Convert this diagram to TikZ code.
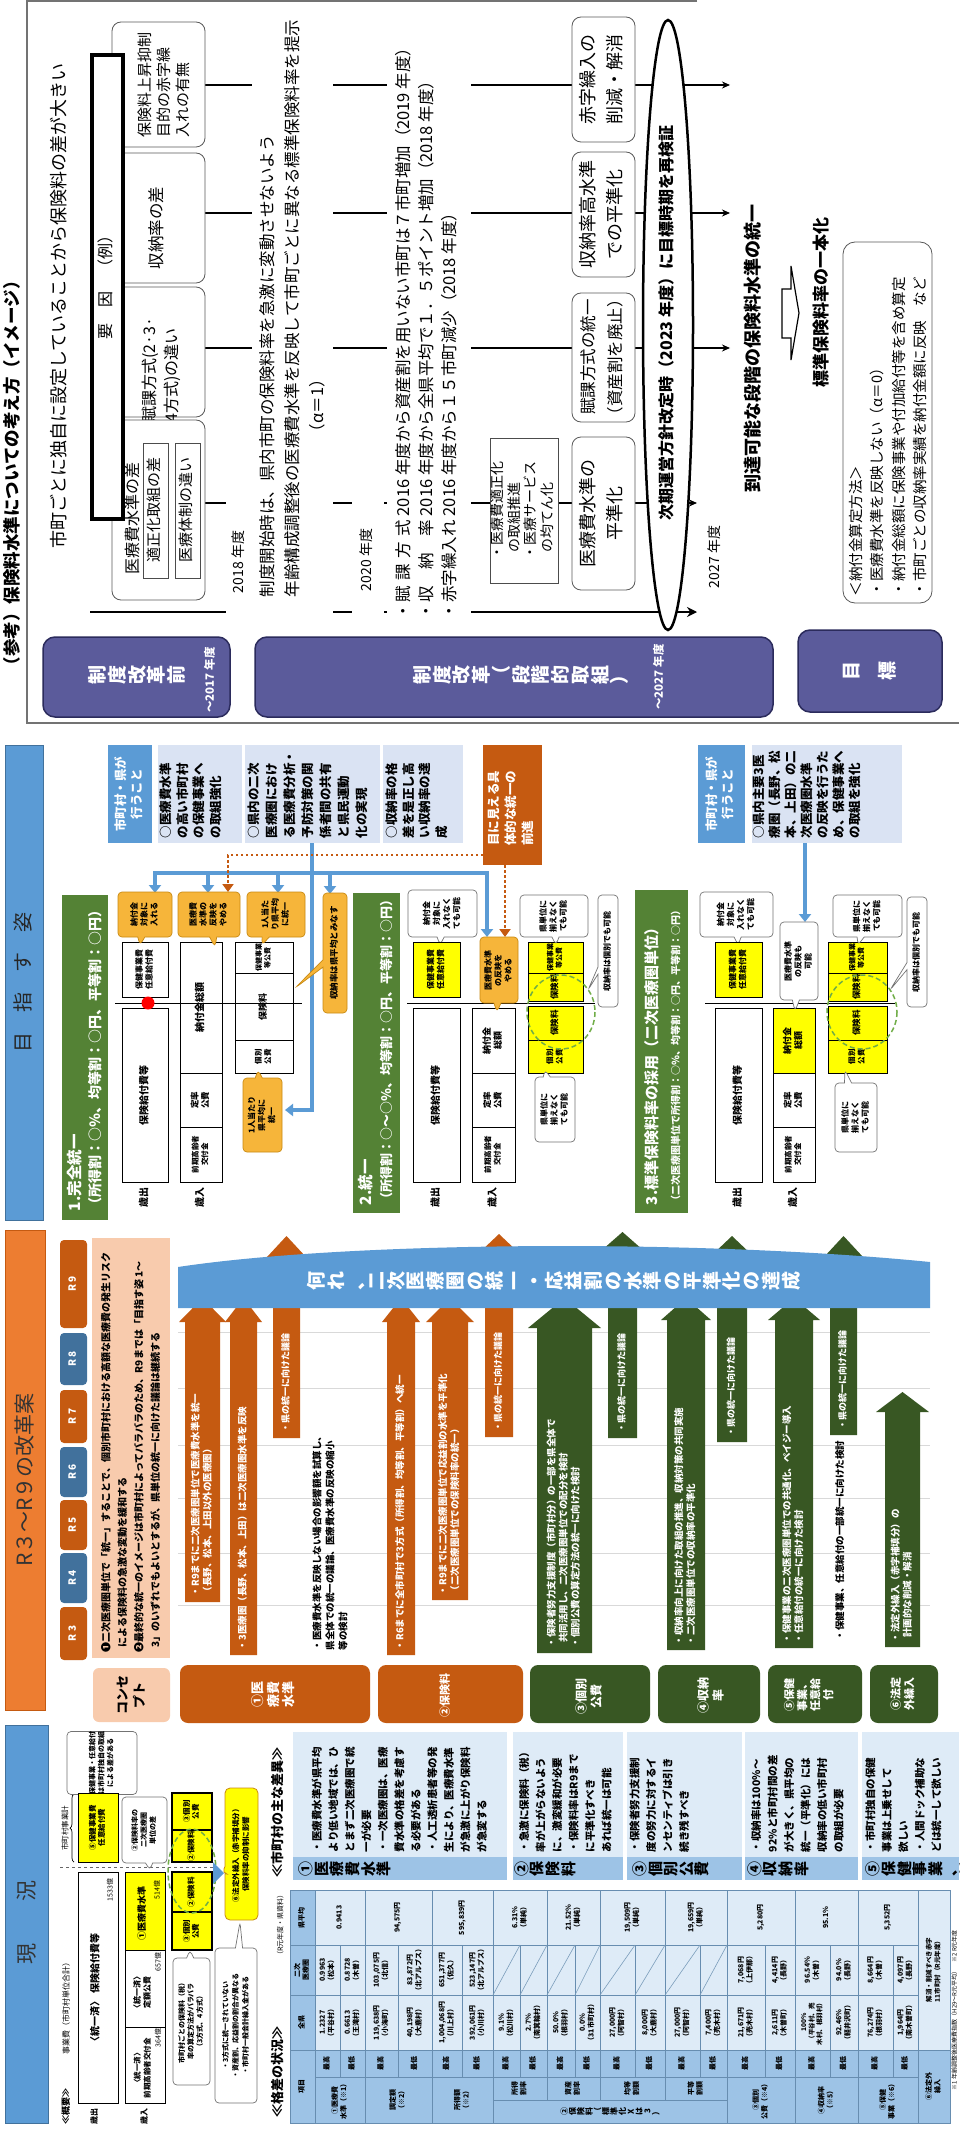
\documentclass[tikz,border=0pt]{standalone}
\usepackage{fontspec}
\setmainfont{Noto Sans CJK JP}
\usetikzlibrary{shapes.callouts,shapes.geometric,arrows.meta,decorations.pathreplacing}
\definecolor{purp}{HTML}{5B5B9B}
\definecolor{purpD}{HTML}{2B2B5C}
\definecolor{blueM}{HTML}{5B9BD5}
\definecolor{blueD}{HTML}{41719C}
\definecolor{blueL}{HTML}{DAE3F3}
\definecolor{blueP}{HTML}{DEEBF7}
\definecolor{blueH}{HTML}{9DC3E6}
\definecolor{orgD}{HTML}{C55A11}
\definecolor{orgB}{HTML}{ED7D31}
\definecolor{peach}{HTML}{F8CBAD}
\definecolor{grn}{HTML}{548235}
\definecolor{grnD}{HTML}{385723}
\definecolor{grnL}{HTML}{70AD47}
\definecolor{yel}{HTML}{FFFF00}
\definecolor{gold}{HTML}{F6B53A}
\definecolor{goldD}{HTML}{C98A12}
\newcommand\rtl[1]{\rotatebox{90}{\begin{tabular}{@{}l@{}}#1\end{tabular}}}
\newcommand\rtc[1]{\rotatebox{90}{\begin{tabular}{@{}c@{}}#1\end{tabular}}}
\makeatletter
\newcommand\hz[1]{\rotatebox{90}{\vbox{\baselineskip=1.04em\lineskip=0pt\lineskiplimit=0pt\@tfor\hz@c:=#1\do{\hbox to 1em{\hss\hz@c\hss}}}}}
\makeatother
\newcommand\uparr[7]{\fill[#1] (#2,#4) -- (#2,#6) -- ({#2-#7},#6) -- ({(#2+#3)/2},#5) -- ({#3+#7},#6) -- (#3,#6) -- (#3,#4) -- cycle;}
\tikzset{
 fs/.style 2 args={font=\fontsize{#1}{#2}\selectfont},
 fb/.style 2 args={font=\fontsize{#1}{#2}\selectfont\bfseries},
 dbl/.style={draw=black!70, double=white, double distance=1.5pt, line width=0.6pt, fill=white},
 rbox/.style={draw=black!65, line width=0.8pt, rounded corners=9pt, fill=white},
 wbox/.style={draw=black, line width=1pt, fill=white},
 ybox/.style={draw=black, line width=1pt, fill=yel},
 thinbox/.style={draw=black!70, line width=0.7pt, fill=white},
 cw/.style={rectangle callout, draw=black!55, fill=white, line width=0.7pt, rounded corners=4pt},
 co/.style={rectangle callout, draw=goldD, fill=gold, line width=0.7pt, rounded corners=4pt},
 conn/.style={draw=black, line width=1.1pt, -{Stealth[length=8pt,width=7pt]}},
 barrow/.style={draw=blueM, line width=3.5pt, -{Triangle[length=8pt,width=12pt]}},
 bline/.style={draw=blueM, line width=3.5pt},
 odot/.style={draw=orgD, line width=2.5pt, dash pattern=on 2.5pt off 2.5pt},
 gdash/.style={draw=grnL, line width=1.5pt, dash pattern=on 5pt off 3pt},
 tline/.style={draw=blueD!80, line width=0.7pt},
 tv/.style={fb={7}{8.5}},
 wt/.style={text=white},
}
\begin{document}
\begin{tikzpicture}[x=1pt,y=-1pt, every node/.style={inner sep=0pt, outer sep=0pt}]
\fill[white] (0,0) rectangle (959,2132);
\useasboundingbox (0,0) rectangle (959,2132);

%%%%%%%%%%%%%%%% FIGURE 1 %%%%%%%%%%%%%%%%
\draw[black!55, line width=1.4pt] (697,1) -- (27,1) -- (27,723) -- (959,723);
\node[fb={17.5}{20}, anchor=south] (title) at (14,674) {\rtl{（参考）保険料水準についての考え方（イメージ）}};

\coordinate (c1a) at (205,85);  \coordinate (c1b) at (730,85);
\coordinate (c2a) at (205,213); \coordinate (c2b) at (730,213);
\coordinate (c3a) at (205,348); \coordinate (c3b) at (730,348);
\coordinate (c4a) at (205,503); \coordinate (c4b) at (697,503);
\coordinate (c5a) at (90,612);  \coordinate (c5b) at (697,612);
\draw[conn] (c1a) -- (c1b);
\draw[conn] (c2a) -- (c2b);
\draw[conn] (c3a) -- (c3b);
\draw[conn] (c4a) -- (c4b);
\draw[line width=2.6pt, -{Stealth[length=10pt,width=10pt]}] (c5a) -- (c5b);

% row 1
\draw[dbl] (35,13) rectangle (88,628);
\node[fs={18}{20}] (a1) at (61,306) {\rtl{市町ごとに独自に設定していることから保険料の差が大きい}};
\draw[rbox] (112,22) rectangle (205,147);
\node[fs={15}{19}] (f1) at (166,85) {\rtl{保険料上昇抑制\\目的の赤字繰\\入れの有無}};
\draw[rbox] (112,153) rectangle (205,283);
\node[fs={16.5}{20}] (f2) at (158,228) {\rtl{収納率の差}};
\draw[rbox] (112,287) rectangle (205,417);
\node[fs={16}{22}] (f3) at (162,370) {\rtl{賦課方式(2·3·\\4方式)の違い}};
\draw[rbox] (112,420) rectangle (205,600);
\node[fs={16}{18}] (f4) at (134,518) {\rtl{医療費水準の差}};
\draw[thinbox] (143,443) rectangle (168,578);
\node[fs={15}{17}] (f4a) at (155.5,510) {\rtl{適正化取組の差}};
\draw[thinbox] (175,443) rectangle (200,578);
\node[fs={15}{17}] (f4b) at (187.5,510) {\rtl{医療体制の違い}};
\draw[line width=3.5pt, fill=white] (92,55) rectangle (123,519);
\node[fs={16}{18}] (yoin) at (107.5,283) {\rtl{要\quad 因\quad （例）}};

% row 2
\draw[dbl] (227,497) rectangle (253,627);
\node[fs={14}{16}] (y2018) at (240,562) {\rtl{2018 年度}};
\draw[dbl] (253,13) rectangle (332,628);
\node[fs={16.5}{25}, anchor=south] (t18) at (293,597) {\rtl{制度開始時は、県内市町の保険料率を急激に変動させないよう\\年齢構成調整後の医療費水準を反映して市町ごとに異なる標準保険料率を提示\\\hspace*{9.5em}（α＝1）}};
\draw[dbl] (353,497) rectangle (383,623);
\node[fs={14}{16}] (y2020) at (368,560) {\rtl{2020 年度}};
\draw[dbl] (388,13) rectangle (470,623);
\node[fs={16.5}{23}, anchor=south] (t20) at (428,619) {\rtl{・\makebox[5em][s]{賦\hfill 課\hfill 方\hfill 式}\ 2016 年度から資産割を用いない市町は７市町増加（2019 年度）\\・\makebox[5em][s]{収\hfill 納\hfill 率}\ 2016 年度から全県平均で１．５ポイント増加（2018 年度）\\・\makebox[5em][s]{赤字繰入れ}\ 2016 年度から１５市町減少（2018 年度）}};

\draw[thinbox] (490,438) rectangle (558,583);
\node[fs={14}{16}] (kin) at (524,510) {\rtl{・医療費適正化\\\ \ の取組推進\\・医療サービス\\\ \ の均てん化}};
\draw[rbox] (572,17) rectangle (635,142);
\node[fs={18}{27}] (g1) at (603,80) {\rtc{赤字繰入の\\削減・解消}};
\draw[rbox] (572,152) rectangle (635,277);
\node[fs={18}{27}] (g2) at (603,215) {\rtc{収納率高水準\\での平準化}};
\draw[rbox] (572,293) rectangle (635,422);
\node[fs={16.5}{27}] (g3) at (603,357) {\rtc{賦課方式の統一\\（資産割を廃止）}};
\draw[rbox] (572,437) rectangle (635,590);
\node[fs={18}{27}] (g4) at (603,513) {\rtc{医療費水準の\\平準化}};

\node[ellipse, draw, line width=2.5pt, fill=white, minimum width=50pt, minimum height=610pt] (ell) at (668,325) {};
\node[fb={16}{18}] (ellt) at (668,323) {\rtl{次期運営方針改定時（2023 年度）に目標時期を再検証}};

\draw[dbl] (698,493) rectangle (733,622);
\node[fs={14}{16}] (y2027) at (715.5,557) {\rtl{2027 年度}};
\draw[dbl] (733,5) rectangle (777,622);
\node[fb={18}{20}] (goal1) at (755,348) {\rtl{到達可能な段階の保険料水準の統一}};
\draw[line width=1.2pt, fill=white] (782,289) -- (791,289) -- (791,266) -- (799,313) -- (791,360) -- (791,338) -- (782,338) -- cycle;

\draw[dbl] (802,5) rectangle (943,620);
\node[fb={17}{20}] (goal2) at (823,302) {\rtl{標準保険料率の一本化}};
\draw[rbox, rounded corners=12pt] (843,242) rectangle (932,603);
\node[fs={14.5}{21.5}, anchor=south] (calc) at (889,596) {\rtl{＜納付金算定方法＞\\・医療費水準を反映しない（α＝0）\\・納付金総額に保険事業や付加給付等を含め算定\\・市町ごとの収納率実績を納付金額に反映　など}};

% purple bars
\draw[fill=purp, draw=purpD, line width=1.5pt, rounded corners=12pt] (43,637) rectangle (230,717);
\node[fb={19}{22}, wt] (p1) at (137,675) {\hz{制度改革前}};
\node[fb={11.5}{13}, wt] (p1y) at (211,680) {\rtl{～2017 年度}};
\draw[fill=purp, draw=purpD, line width=1.5pt, rounded corners=12pt] (255,637) rectangle (773,717);
\node[fb={19}{22}, wt] (p2) at (521,675) {\hz{制度改革（段階的取組）}};
\node[fb={11.5}{13}, wt] (p2y) at (660,677) {\rtl{～2027 年度}};
\draw[fill=purp, draw=purpD, line width=1.5pt, rounded corners=12pt] (798,630) rectangle (942,712);
\node[fb={19}{22}, wt] (p3) at (870,671) {\hz{目}\hspace{18pt}\hz{標}};

%%%%%%%%%%%%%%%% FIGURE 2 %%%%%%%%%%%%%%%%
% side bars
\draw[fill=blueM, draw=blueD, line width=1pt] (5,745) rectangle (43,1220);
\node[fs={20}{22}, text=black!85] (bar1) at (25,982) {\rtl{目\quad 指\quad す\quad 姿}};
\draw[fill=orgB, draw=orgD, line width=1pt] (5,1230) rectangle (45,1710);
\node[fs={21}{23}, text=black!80] (bar2) at (27,1480) {\rtl{R３～R９の改革案}};
\draw[fill=blueM, draw=blueD, line width=1pt] (5,1725) rectangle (48,2123);
\node[fs={21}{23}, text=black!80] (bar3) at (29,1922) {\rtl{現\qquad 況}};

% top strip
\fill[blueM] (108,745) rectangle (152,843);
\node[fb={12.5}{16}, wt] (lab1) at (130,794) {\rtc{市町村・県が\\行うこと}};
\fill[blueL] (158,745) rectangle (242,843);
\node[fb={12.5}{16.5}, anchor=south] (tb1) at (192,838) {\rtl{○医療費水準\\の高い市町村\\の保健事業へ\\の取組強化}};
\fill[blueL] (245,745) rectangle (380,843);
\node[fb={12.5}{18}, anchor=south] (tb2) at (309,838) {\rtl{○県内の二次\\医療圏におけ\\る医療費分析・\\予防対策の関\\係者間の共有\\と県民運動\\化の実現}};
\fill[blueL] (383,745) rectangle (463,843);
\node[fb={12.5}{16.5}, anchor=south] (tb3) at (418,838) {\rtl{○収納率の格\\差を是正し高\\い収納率の達\\成}};
\fill[orgD] (483,745) rectangle (542,865);
\node[fb={12.5}{17}, wt] (ob) at (512,808) {\rtl{目に見える具\\体的な統一の\\前進}};
\fill[blueM] (698,745) rectangle (745,843);
\node[fb={12.5}{16}, wt] (lab2) at (721,794) {\rtc{市町村・県が\\行うこと}};
\fill[blueL] (752,745) rectangle (902,843);
\node[fb={12.5}{16}, anchor=south] (tb4) at (808,838) {\rtl{○県内主要3医\\療圏（長野、松\\本、上田）の二\\次医療圏水準\\の反映を行うた\\め、保健事業へ\\の取組を強化}};

% blue / orange connectors
\coordinate (ba0) at (312,843); \coordinate (ba1) at (312,1110); \coordinate (ba2) at (285,1110);
\draw[barrow] (ba0) -- (ba1) -- (ba2);
\coordinate (bh0) at (153,873); \coordinate (bh1) at (489,873);
\draw[bline] (bh0) -- (bh1);
\coordinate (d1a) at (155,873); \coordinate (d1b) at (155,893);
\coordinate (d2a) at (208,873); \coordinate (d2b) at (208,893);
\coordinate (d3a) at (278,873); \coordinate (d3b) at (278,893);
\coordinate (d4a) at (330,873); \coordinate (d4b) at (330,894);
\coordinate (d5a) at (487,873); \coordinate (d5b) at (487,937);
\coordinate (d6a) at (805,843); \coordinate (d6b) at (805,922);
\draw[barrow] (d1a) -- (d1b);
\draw[barrow] (d2a) -- (d2b);
\draw[barrow] (d3a) -- (d3b);
\draw[barrow] (d4a) -- (d4b);
\draw[barrow] (d5a) -- (d5b);
\draw[barrow] (d6a) -- (d6b);
\coordinate (o1a) at (483,855); \coordinate (o1m) at (228,855); \coordinate (o1b) at (228,892);
\coordinate (o2a) at (505,865); \coordinate (o2b) at (505,937);
\draw[odot, -{Triangle[length=8pt,width=11pt]}] (o1a) -- (o1m) -- (o1b);
\draw[odot, -{Triangle[length=8pt,width=11pt]}] (o2a) -- (o2b);

% section bands
\fill[grn] (62,895) rectangle (108,1220);
\node[fb={14}{20}, wt, anchor=south] (sb1) at (86,1211) {\rtl{{\fontsize{15.5}{20}\selectfont 1.完全統一}\\（所得割：○％、均等割：○円、平等割：○円）}};
\fill[grn] (353,893) rectangle (400,1213);
\node[fb={13}{20}, wt, anchor=south] (sb2) at (377,1205) {\rtl{{\fontsize{15.5}{20}\selectfont 2.統一}\\（所得割：○～○％、均等割：○円、平等割：○円）}};
\fill[grn] (635,890) rectangle (688,1213);
\node[fb={10}{22}, wt, anchor=south] (sb3) at (664,1205) {\rtl{{\fontsize{15}{20}\selectfont 3.標準保険料率の採用（二次医療圏単位）}\\（二次医療圏単位で所得割：○％、均等割：○円、平等割：○円）}};

% section 1
\draw[wbox] (122,942) rectangle (168,997);
\node[fb={8}{10}] (s1a) at (145,969.5) {\rtc{保健事業費\\任意給付費}};
\draw[wbox] (122,1008) rectangle (168,1182);
\node[fb={10}{12}] (s1b) at (145,1095) {\rtc{保険給付費等}};
\draw[wbox] (180,942) rectangle (222,1073);
\node[fb={10}{12}] (s1c) at (201,1007.5) {\rtc{納付金総額}};
\draw[wbox] (180,1073) rectangle (222,1127);
\node[fb={8.5}{10.5}] (s1d) at (201,1100) {\rtc{定率\\公費}};
\draw[wbox] (180,1127) rectangle (222,1182);
\node[fb={7.5}{9.5}] (s1e) at (201,1154.5) {\rtc{前期高齢者\\交付金}};
\draw[wbox] (235,942) rectangle (293,973);
\node[fb={7}{8.5}] (s1f) at (264,957.5) {\rtc{保健事業\\等公費}};
\draw[wbox] (235,973) rectangle (293,1040);
\node[fb={9}{11}] (s1g) at (264,1006.5) {\rtc{保険料}};
\draw[wbox] (235,1040) rectangle (293,1073);
\node[fb={7.5}{9.5}] (s1h) at (264,1056.5) {\rtc{個別\\公費}};
\draw[black, line width=0.8pt] (115,1003) -- (302,1003);
\fill[red] (148,1003) circle (6.5);
\node[fb={10}{12}] (s1x) at (145,1197) {\rtc{歳出}};
\node[fb={10}{12}] (s1y) at (201,1197) {\rtc{歳入}};
\node[co, fb={8}{10}, minimum width=54pt, minimum height=45pt, callout absolute pointer={(140,945)}] (k1) at (145,914.5) {\rtc{納付金\\対象に\\入れる}};
\node[co, fb={8}{10}, minimum width=62pt, minimum height=45pt, callout absolute pointer={(215,947)}] (k2) at (209,914.5) {\rtc{医療費\\水準の\\反映を\\やめる}};
\node[co, fb={8}{10}, minimum width=58pt, minimum height=45pt, callout absolute pointer={(262,945)}] (k3) at (276,914.5) {\rtc{1人当た\\り県平均\\に統一}};
\node[co, fb={8.5}{10}, minimum width=24pt, minimum height=120pt, callout absolute pointer={(295,988)}] (k4) at (335,953) {\rtc{収納率は県平均とみなす}};
\node[co, fb={8}{10}, minimum width=39pt, minimum height=74pt, callout absolute pointer={(258,1070)}] (k5) at (262.5,1115) {\rtc{1人当たり\\県平均に\\統一}};

% section 2
\node[cw, fb={8}{10}, minimum width=69pt, minimum height=47pt, callout absolute pointer={(440,945)}] (m1) at (442.5,913.5) {\rtc{納付金\\対象に\\入れなく\\ても可能}};
\draw[ybox] (413,942) rectangle (460,997);
\node[fb={8}{10}] (s2a) at (436.5,969.5) {\rtc{保健事業費\\任意給付費}};
\draw[wbox] (413,1008) rectangle (460,1182);
\node[fb={10}{12}] (s2b) at (436.5,1095) {\rtc{保険給付費等}};
\draw[wbox] (472,1008) rectangle (515,1073);
\node[fb={9}{11}] (s2c) at (493.5,1040.5) {\rtc{納付金\\総額}};
\draw[wbox] (472,1073) rectangle (515,1127);
\node[fb={8.5}{10.5}] (s2d) at (493.5,1100) {\rtc{定率\\公費}};
\draw[wbox] (472,1127) rectangle (515,1182);
\node[fb={7.5}{9.5}] (s2e) at (493.5,1154.5) {\rtc{前期高齢者\\交付金}};
\draw[ybox] (528,942) rectangle (583,973);
\node[fb={7}{8.5}] (s2f) at (555.5,957.5) {\rtc{保健事業\\等公費}};
\draw[ybox] (528,973) rectangle (583,1001);
\node[fb={8.5}{10}] (s2g) at (555.5,987) {\rtc{保険料}};
\draw[ybox] (528,1006) rectangle (583,1040);
\node[fb={8.5}{10}] (s2h) at (555.5,1023) {\rtc{保険料}};
\draw[ybox] (528,1040) rectangle (583,1073);
\node[fb={7.5}{9.5}] (s2i) at (555.5,1056.5) {\rtc{個別\\公費}};
\draw[black, line width=0.8pt] (407,1003) -- (595,1003);
\draw[gdash] (561,1012) ellipse [x radius=34, y radius=37];
\node[fb={10}{12}] (s2x) at (436.5,1197) {\rtc{歳出}};
\node[fb={10}{12}] (s2y) at (493.5,1197) {\rtc{歳入}};
\node[co, fb={8}{10}, minimum width=38pt, minimum height=66pt, callout absolute pointer={(497,1012)}] (m2) at (499,970) {\rtc{医療費水準\\の反映を\\やめる}};
\node[cw, fb={8}{10}, minimum width=68pt, minimum height=42pt, callout absolute pointer={(556,945)}] (m3) at (554,916) {\rtc{県単位に\\揃えなく\\ても可能}};
\node[cw, fb={8}{10}, minimum width=20pt, minimum height=112pt, callout absolute pointer={(588,990)}] (m4) at (608,951) {\rtc{収納率は個別でも可能}};
\node[cw, fb={8}{10}, minimum width=40pt, minimum height=65pt, callout absolute pointer={(545,1070)}] (m5) at (555,1109.5) {\rtc{県単位に\\揃えなく\\ても可能}};

% section 3
\node[cw, fb={8}{10}, minimum width=73pt, minimum height=45pt, callout absolute pointer={(738,945)}] (e1) at (736.5,914.5) {\rtc{納付金\\対象に\\入れなく\\ても可能}};
\draw[ybox] (715,942) rectangle (762,997);
\node[fb={8}{10}] (s3a) at (738.5,969.5) {\rtc{保健事業費\\任意給付費}};
\draw[wbox] (715,1008) rectangle (762,1182);
\node[fb={10}{12}] (s3b) at (738.5,1095) {\rtc{保険給付費等}};
\draw[ybox] (773,1008) rectangle (815,1073);
\node[fb={9}{11}] (s3c) at (794,1040.5) {\rtc{納付金\\総額}};
\draw[wbox] (773,1073) rectangle (815,1127);
\node[fb={8.5}{10.5}] (s3d) at (794,1100) {\rtc{定率\\公費}};
\draw[wbox] (773,1127) rectangle (815,1182);
\node[fb={7.5}{9.5}] (s3e) at (794,1154.5) {\rtc{前期高齢者\\交付金}};
\draw[ybox] (828,942) rectangle (887,973);
\node[fb={7}{8.5}] (s3f) at (857.5,957.5) {\rtc{保健事業\\等公費}};
\draw[ybox] (828,973) rectangle (887,1001);
\node[fb={8.5}{10}] (s3g) at (857.5,987) {\rtc{保険料}};
\draw[ybox] (828,1006) rectangle (887,1040);
\node[fb={8.5}{10}] (s3h) at (857.5,1023) {\rtc{保険料}};
\draw[ybox] (828,1040) rectangle (887,1073);
\node[fb={7.5}{9.5}] (s3i) at (857.5,1056.5) {\rtc{個別\\公費}};
\draw[black, line width=0.8pt] (705,1003) -- (895,1003);
\draw[gdash] (862,1012) ellipse [x radius=35, y radius=37];
\node[fb={10}{12}] (s3x) at (738.5,1197) {\rtc{歳出}};
\node[fb={10}{12}] (s3y) at (794,1197) {\rtc{歳入}};
\node[cw, fb={8}{10}, minimum width=38pt, minimum height=78pt, callout absolute pointer={(795,1011)}] (e2) at (799,961) {\rtc{医療費水準\\の反映も\\可能}};
\node[cw, fb={8}{10}, minimum width=69pt, minimum height=42pt, callout absolute pointer={(858,945)}] (e3) at (867.5,916) {\rtc{県単位に\\揃えなく\\ても可能}};
\node[cw, fb={8}{10}, minimum width=20pt, minimum height=110pt, callout absolute pointer={(890,990)}] (e4) at (917,952) {\rtc{収納率は個別でも可能}};
\node[cw, fb={8}{10}, minimum width=42pt, minimum height=69pt, callout absolute pointer={(845,1070)}] (e5) at (856,1117.5) {\rtc{県単位に\\揃えなく\\ても可能}};

%%%%%%%% R3-R9 %%%%%%%%
\fill[orgD, rounded corners=4pt] (60,1240) rectangle (87,1328);
\node[fb={10}{12}, wt] (r9) at (73.5,1284) {\rtl{R 9}};
\fill[blueD, rounded corners=4pt] (60,1333) rectangle (87,1385);
\node[fb={10}{12}, wt] (r8) at (73.5,1359) {\rtl{R 8}};
\fill[orgD, rounded corners=4pt] (60,1390) rectangle (87,1443);
\node[fb={10}{12}, wt] (r7) at (73.5,1416.5) {\rtl{R 7}};
\fill[blueD, rounded corners=4pt] (60,1447) rectangle (87,1497);
\node[fb={10}{12}, wt] (r6) at (73.5,1472) {\rtl{R 6}};
\fill[orgD, rounded corners=4pt] (60,1500) rectangle (87,1550);
\node[fb={10}{12}, wt] (r5) at (73.5,1525) {\rtl{R 5}};
\fill[blueD, rounded corners=4pt] (60,1553) rectangle (87,1603);
\node[fb={10}{12}, wt] (r4) at (73.5,1578) {\rtl{R 4}};
\fill[orgD, rounded corners=4pt] (60,1607) rectangle (87,1660);
\node[fb={10}{12}, wt] (r3) at (73.5,1633.5) {\rtl{R 3}};

\fill[peach] (92,1238) rectangle (170,1658);
\node[fb={10}{16.5}, anchor=south] (pc) at (131,1652) {\rtl{❶二次医療圏単位で「統一」することで、個別市町村における高額な医療費の発生リスク\\\ \ による保険料の急激な変動を緩和する\\❷最終的な統一のイメージは市町村によってバラバラのため、R9までは「目指す姿 1～\\\ \ 3」のいずれでもよいとするが、県単位の統一に向けた議論は継続する}};
\fill[peach, rounded corners=6pt] (93,1668) rectangle (170,1722);
\node[fb={13}{17}] (cpt) at (133,1695) {\rtc{コンセ\\プト}};

\fill[orgD, rounded corners=8pt] (180,1665) rectangle (370,1723);
\node[fb={13}{15}, wt] (cb1) at (275,1694) {\rtc{①医\\療費\\水準}};
\fill[orgD, rounded corners=8pt] (378,1665) rectangle (523,1723);
\node[fb={11}{13}, wt] (cb2) at (446,1695) {\rtc{②保険料}};
\fill[grnD, rounded corners=8pt] (530,1665) rectangle (650,1723);
\node[fb={12}{15}, wt] (cb3) at (590,1696) {\rtc{③個別\\公費}};
\fill[grnD, rounded corners=8pt] (658,1665) rectangle (760,1723);
\node[fb={12}{15}, wt] (cb4) at (712,1695) {\rtc{④収納\\率}};
\fill[grnD, rounded corners=8pt] (768,1665) rectangle (862,1723);
\node[fb={11}{12}, wt] (cb5) at (810,1695) {\rtc{⑤保健\\事業、\\任意給\\付}};
\fill[grnD, rounded corners=8pt] (870,1665) rectangle (938,1723);
\node[fb={11}{13.5}, wt] (cb6) at (904,1694) {\rtc{⑥法定\\外繰入}};

\draw[black!15, line width=1pt] (178,1332) -- (930,1332);
\draw[black!15, line width=1pt] (178,1388) -- (930,1388);
\draw[black!15, line width=1pt] (178,1445) -- (930,1445);
\draw[black!15, line width=1pt] (178,1498) -- (930,1498);
\draw[black!15, line width=1pt] (178,1553) -- (930,1553);
\draw[black!15, line width=1pt] (178,1605) -- (930,1605);

\uparr{orgD}{185}{220}{1602}{1298}{1322}{6}
\uparr{orgD}{230}{257}{1655}{1298}{1322}{5}
\uparr{orgD}{273}{300}{1438}{1236}{1257}{6}
\uparr{orgD}{387}{415}{1655}{1298}{1322}{5}
\uparr{orgD}{432}{468}{1600}{1298}{1322}{6}
\uparr{orgD}{485}{513}{1437}{1234}{1252}{5}
\uparr{grnD}{537}{592}{1653}{1298}{1328}{9}
\uparr{grnD}{608}{637}{1438}{1232}{1250}{6}
\uparr{grnD}{667}{705}{1650}{1298}{1320}{6}
\uparr{grnD}{717}{747}{1442}{1236}{1255}{5}
\uparr{grnD}{775}{813}{1648}{1298}{1320}{7}
\uparr{grnD}{830}{857}{1435}{1236}{1257}{6}
\uparr{grnD}{885}{920}{1647}{1392}{1412}{9}

\node[fb={9.5}{12}, wt, anchor=south] (ta1) at (202.5,1596) {\rtl{・R9までに二次医療圏単位で医療費水準を統一\\（長野、松本、上田以外の医療圏）}};
\node[fb={9.5}{12}, wt, anchor=south] (ta2) at (243.5,1650) {\rtl{・3医療圏（長野、松本、上田）は二次医療圏水準を反映}};
\node[fb={9}{12}, wt, anchor=south] (ta3) at (286.5,1432) {\rtl{・県の統一に向けた議論}};
\node[fb={9.5}{13}, anchor=south] (tx1) at (331,1650) {\rtl{・医療費水準を反映しない場合の影響額を試算し、\\県全体での統一の議論、医療費水準の反映の縮小\\等の検討}};
\node[fb={9.5}{12}, wt, anchor=south] (ta4) at (401,1650) {\rtl{・R6までに全市町村で3方式（所得割、均等割、平等割）へ統一}};
\node[fb={9.5}{12}, wt, anchor=south] (ta5) at (450,1595) {\rtl{・R9までに二次医療圏単位で応益割の水準を平準化\\（二次医療圏単位での保険料率の統一）}};
\node[fb={9}{12}, wt, anchor=south] (ta6) at (499,1431) {\rtl{・県の統一に向けた議論}};
\node[fb={9.5}{12}, wt, anchor=south] (tg1) at (564.5,1647) {\rtl{・保険者努力支援制度（市町村分）の一部を県全体で\\\ \ 共同活用し、二次医療圏単位での配分を検討\\・個別公費の算定方法の統一に向けた検討}};
\node[fb={9}{12}, wt, anchor=south] (tg2) at (622.5,1432) {\rtl{・県の統一に向けた議論}};
\node[fb={9.5}{12}, wt, anchor=south] (tg3) at (686,1645) {\rtl{・収納率向上に向けた取組の推進、収納対策の共同実施\\・二次医療圏単位での収納率の平準化}};
\node[fb={9}{12}, wt, anchor=south] (tg4) at (732,1436) {\rtl{・県の統一に向けた議論}};
\node[fb={9.5}{12}, wt, anchor=south] (tg5) at (794,1643) {\rtl{・保健事業の二次医療圏単位での共通化、ペイジー導入\\・任意給付の統一に向けた検討}};
\node[fb={9.5}{12}, anchor=south] (tx2) at (841,1640) {\rtl{・保健事業、任意給付の一部統一に向けた検討}};
\node[fb={9}{12}, wt, anchor=south] (tg6) at (843.5,1429) {\rtl{・県の統一に向けた議論}};
\node[fb={9.5}{12}, wt, anchor=south] (tg7) at (902.5,1642) {\rtl{・法定外繰入（赤字補填分）の\\\ \ 計画的な削減・解消}};

\fill[blueM] (178,1267) .. controls (350,1241) and (700,1239) .. (930,1262) -- (930,1308) -- (178,1308) -- cycle;
\node[fb={19}{21}, wt] (band) at (554,1281) {\hz{何れ、二次医療圏の統一・応益割の水準の平準化の達成}};

%%%%%%%% 現況 %%%%%%%%
\node[fb={9}{11}] (gaiyo) at (67,2106) {\rtl{≪概要≫}};
\node[fs={8}{10}] (jgh) at (67,2006) {\rtl{事業費（市町村単位合計）}};
\node[fs={7.5}{9}] (jgh2) at (66,1828) {\rtl{市町村事業計}};
\draw[decorate, decoration={brace, amplitude=4pt}, line width=0.7pt] (74,1862) -- (74,1794);
\node[cw, fb={7}{9}, minimum width=70pt, minimum height=56pt, callout absolute pointer={(82,1800)}] (gk1) at (102,1763) {\rtc{保健事業・任意給付\\は市町村独自の取組\\による差がある}};
\draw[ybox] (78,1793) rectangle (118,1862);
\node[fb={7.5}{9}] (gz1) at (98,1827.5) {\rtc{⑤保健事業費\\任意給付費}};
\draw[black!60, dashed, line width=0.8pt] (60,1867) -- (215,1867);
\draw[wbox] (78,1872) rectangle (118,2103);
\node[fb={10}{12}] (gz2) at (96,1990) {\rtc{〈統一済〉\ 保険給付費等}};
\node[fs={7}{8}] (gz2b) at (111,1890) {\rtc{1533億}};
\draw[ybox] (125,1872) rectangle (165,1950);
\node[fb={9}{11}] (gz3) at (143,1913) {\rtc{①医療費水準}};
\node[fs={7}{8}] (gz3b) at (158,1890) {\rtc{514億}};
\draw[wbox] (125,1950) rectangle (165,2027);
\node[fb={8}{10}] (gz4) at (143,1992) {\rtc{〈統一済〉\\定額公費}};
\node[fs={7}{8}] (gz4b) at (159,1962) {\rtc{657億}};
\draw[wbox] (125,2027) rectangle (165,2103);
\node[fb={7.5}{10}] (gz5) at (143,2068) {\rtc{〈統一済〉\\前期高齢者交付金}};
\node[fs={7}{8}] (gz5b) at (159,2038) {\rtc{364億}};
\node[cw, fb={7}{9}, minimum width=45pt, minimum height=66pt, callout absolute pointer={(150,1870)}] (gk2) at (144.5,1830) {\rtc{②保険料率の\\二次医療圏\\単位の差}};
\draw[ybox, line width=2pt] (172,1793) rectangle (212,1830);
\node[fb={7.5}{9}] (gz6) at (192,1811.5) {\rtc{③個別\\公費}};
\draw[ybox, line width=2pt] (172,1830) rectangle (212,1862);
\node[fb={7.5}{9}] (gz7) at (192,1846) {\rtc{②保険料}};
\draw[ybox, line width=2pt] (172,1872) rectangle (212,1912);
\node[fb={7.5}{9}] (gz8) at (192,1892) {\rtc{②保険料}};
\draw[ybox, line width=2pt] (172,1912) rectangle (212,1950);
\node[fb={7.5}{9}] (gz9) at (192,1931) {\rtc{③個別\\公費}};
\draw[gdash] (192,1871) ellipse [x radius=24, y radius=42];
\node[cw, fb={7}{9}, minimum width=37pt, minimum height=127pt, callout absolute pointer={(190,1950)}] (gk3) at (191.5,2021.5) {\rtc{市町村ごとの保険料（税）\\率の算定方法がバラバラ\\（3方式、4方式）}};
\fill[blueM] (224,1873) -- (213,1862) -- (213,1884) -- cycle;
\node[rectangle callout, draw=goldD, fill=yel, rounded corners=5pt, line width=0.8pt, fb={7.5}{10}, minimum width=33pt, minimum height=132pt, callout absolute pointer={(222,1873)}] (gk4) at (241.5,1854) {\rtc{⑥法定外繰入（赤字補填分）\\保険料率の抑制に影響}};
\node[cw, fb={7}{10}, minimum width=42pt, minimum height=155pt, callout absolute pointer={(240,1922)}] (gk5) at (236,2025.5) {\rtc{・3方式に統一されていない\\・資産割、応益割の割合が異なる\\・市町村一般会計繰入金がある}};
\node[fb={8}{10}] (gx1) at (95,2116) {\rtc{歳出}};
\node[fb={8}{10}] (gx2) at (145,2116) {\rtc{歳入}};

\node[fb={13}{15}] (hd1) at (279,1812) {\rtl{≪市町村の主な差異≫}};
\node[fb={13}{15}] (hd2) at (279,2072) {\rtl{≪格差の状況≫}};
\node[fs={7}{8}] (hd3) at (281,1925) {\rtl{（R元年度・県資料）}};

% panels
\fill[blueP] (293,1732) rectangle (507,1857);
\fill[blueH] (293,1857) rectangle (507,1880);
\node[fb={15}{17}] (ph1) at (345,1868.5) {\hz{①医療費水準}};
\node[fb={10.5}{16.5}, anchor=south] (pt1) at (400,1852) {\rtl{・医療費水準が県平均\\より低い地域では、ひ\\とまず二次医療圏で統\\一が必要\\・一次医療圏は、医療\\費水準の格差を考慮す\\る必要がある\\・人工透析患者等の発\\生により、医療費水準\\が急激に上がり保険料\\が急変する}};
\fill[blueP] (513,1732) rectangle (623,1857);
\fill[blueH] (513,1857) rectangle (623,1880);
\node[fb={15}{17}] (ph2) at (545,1868.5) {\hz{②保険料}};
\node[fb={10.5}{16.5}, anchor=south] (pt2) at (566,1852) {\rtl{・急激に保険料（税）\\率が上がらないよう\\に、激変緩和が必要\\・保険料率はR9まで\\に平準化すべき\\あれば統一は可能}};
\fill[blueP] (627,1732) rectangle (742,1857);
\fill[blueH] (627,1857) rectangle (742,1880);
\node[fb={15}{17}] (ph3) at (671,1868.5) {\hz{③個別公費}};
\node[fb={10.5}{16.5}, anchor=south] (pt3) at (660,1852) {\rtl{・保険者努力支援制\\度の努力に対するイ\\ンセンティブは引き\\続き残すべき}};
\fill[blueP] (745,1732) rectangle (858,1857);
\fill[blueH] (745,1857) rectangle (858,1880);
\node[fb={15}{17}] (ph4) at (778,1868.5) {\hz{④収納率}};
\node[fb={10.5}{16.5}, anchor=south] (pt4) at (798,1852) {\rtl{・収納率は100\%～\\92\%と市町村間の差\\が大きく、県平均の\\統一（平準化）には\\収納率の低い市町村\\の取組が必要}};
\fill[blueP] (862,1732) rectangle (959,1857);
\fill[blueH] (862,1857) rectangle (959,1880);
\node[fb={15}{17}, anchor=west] (ph5) at (866,1868.5) {\hz{⑤保健事業、任意給付}};
\node[fb={10.5}{16.5}, anchor=south] (pt5) at (904,1852) {\rtl{・市町村独自の保健\\事業は上乗せして\\欲しい\\・人間ドック補助な\\どは統一して欲しい}};

% table
\fill[blueP] (290,1890) rectangle (950,2123);
\fill[blueH] (290,1890) rectangle (315,2123);
\fill[blueH] (315,2050) rectangle (950,2123);
\draw[tline] (290,1890) rectangle (950,2123);
\draw[tline] (290,1945) -- (918,1945);
\draw[tline] (290,1995) -- (918,1995);
\draw[tline] (290,2050) -- (950,2050);
\draw[tline] (315,2077) -- (918,2077);
\draw[tline] (493,2100) -- (727,2100);
\draw[tline] (315,1890) -- (315,2123);
\foreach \xx in {340,398,462,520,575,635,700,765,830,893} \draw[tline] (\xx,1945) -- (\xx,2077);
\foreach \xx in {365,432,493,727,795,858,918} \draw[tline] (\xx,1890) -- (\xx,2123);
\foreach \xx in {547,600,665} \draw[tline] (\xx,1890) -- (\xx,2100);
\foreach \xa/\xb in {493/520,520/547,547/575,575/600,600/635,635/665,665/700,700/727} \draw[blueD!70, line width=0.6pt] (\xa,1995) -- (\xb,1945);

\node[tv] (h1) at (302.5,1917.5) {\rtc{県平均}};
\node[tv] (h2) at (302.5,1970) {\rtc{二次\\医療圏}};
\node[tv] (h3) at (302.5,2022.5) {\rtc{全県}};
\node[tv] (h4) at (302.5,2086) {\rtc{項目}};
\node[tv] (v1a) at (340,1917.5) {\rtc{0.9413}};
\node[tv] (v1b) at (327.5,1970) {\rtc{0.9963\\（松本）}};
\node[tv] (v1c) at (352.5,1970) {\rtc{0.8728\\（木曽）}};
\node[tv] (v1d) at (327.5,2022.5) {\rtc{1.2327\\（平谷村）}};
\node[tv] (v1e) at (352.5,2022.5) {\rtc{0.6613\\（王滝村）}};
\node[tv] (v2a) at (398,1917.5) {\rtc{94,575円}};
\node[tv] (v2b) at (381.5,1970) {\rtc{103,075円\\（北信）}};
\node[tv] (v2c) at (415,1970) {\rtc{83,872円\\（北アルプス）}};
\node[tv] (v2d) at (381.5,2022.5) {\rtc{119,638円\\（小海町）}};
\node[tv] (v2e) at (415,2022.5) {\rtc{40,198円\\（大鹿村）}};
\node[tv] (v3a) at (462.5,1917.5) {\rtc{595,839円}};
\node[tv] (v3b) at (447,1970) {\rtc{651,377円\\（佐久）}};
\node[tv] (v3c) at (477.5,1970) {\rtc{523,147円\\（北アルプス）}};
\node[tv] (v3d) at (447,2022.5) {\rtc{1,004,068円\\（川上村）}};
\node[tv] (v3e) at (477.5,2022.5) {\rtc{392,061円\\（小川村）}};
\node[tv] (v4a) at (520,1917.5) {\rtc{6.31\%\\（単純）}};
\node[tv] (v4d) at (506.5,2022.5) {\rtc{9.1\%\\（松川村）}};
\node[tv] (v4e) at (533.5,2022.5) {\rtc{2.7\%\\（南箕輪村）}};
\node[tv] (v5a) at (573.5,1917.5) {\rtc{21.52\%\\（単純）}};
\node[tv] (v5d) at (561,2022.5) {\rtc{50.0\%\\（根羽村）}};
\node[tv] (v5e) at (587.5,2022.5) {\rtc{0.0\%\\（31市町村）}};
\node[tv] (v6a) at (632.5,1917.5) {\rtc{19,509円\\（単純）}};
\node[tv] (v6d) at (617.5,2022.5) {\rtc{27,000円\\（阿智村）}};
\node[tv] (v6e) at (650,2022.5) {\rtc{8,000円\\（大鹿村）}};
\node[tv] (v7a) at (696,1917.5) {\rtc{19,659円\\（単純）}};
\node[tv] (v7d) at (682.5,2022.5) {\rtc{27,000円\\（阿智村）}};
\node[tv] (v7e) at (713.5,2022.5) {\rtc{7,400円\\（売木村）}};
\node[tv] (v8a) at (761,1917.5) {\rtc{5,280円}};
\node[tv] (v8b) at (746,1970) {\rtc{7,068円\\（上伊那）}};
\node[tv] (v8c) at (780,1970) {\rtc{4,414円\\（長野）}};
\node[tv] (v8d) at (746,2022.5) {\rtc{21,671円\\（売木村）}};
\node[tv] (v8e) at (780,2022.5) {\rtc{2,611円\\（木曽町）}};
\node[tv] (v9a) at (826.5,1917.5) {\rtc{95.1\%}};
\node[tv] (v9b) at (812.5,1970) {\rtc{96.54\%\\（木曽）}};
\node[tv] (v9c) at (844,1970) {\rtc{94.0\%\\（長野）}};
\node[fb={6.5}{7.5}] (v9d) at (812.5,2022.5) {\rtc{100\%\\（平谷村、売\\木村、根羽村）}};
\node[tv] (v9e) at (844,2022.5) {\rtc{92.46\%\\（軽井沢町）}};
\node[tv] (v10a) at (888,1917.5) {\rtc{5,352円}};
\node[tv] (v10b) at (875.5,1970) {\rtc{8,664円\\（木曽）}};
\node[tv] (v10c) at (905.5,1970) {\rtc{4,097円\\（長野）}};
\node[tv] (v10d) at (875.5,2022.5) {\rtc{76,274円\\（根羽村）}};
\node[tv] (v10e) at (905.5,2022.5) {\rtc{1,964円\\（南木曽町）}};
\node[fb={6.5}{8.5}] (v11) at (934,1970) {\rtc{解消・削減すべき赤字\\11市町村（R元年度）}};
\node[tv] (l1) at (327.5,2063.5) {\rtc{最高}};  \node[tv] (l2) at (352.5,2063.5) {\rtc{最低}};
\node[tv] (l3) at (381.5,2063.5) {\rtc{最高}};  \node[tv] (l4) at (415,2063.5) {\rtc{最低}};
\node[tv] (l5) at (447,2063.5) {\rtc{最高}};    \node[tv] (l6) at (477.5,2063.5) {\rtc{最低}};
\node[tv] (l7) at (506.5,2063.5) {\rtc{最高}};  \node[tv] (l8) at (533.5,2063.5) {\rtc{最低}};
\node[tv] (l9) at (561,2063.5) {\rtc{最高}};    \node[tv] (l10) at (587.5,2063.5) {\rtc{最低}};
\node[tv] (l11) at (617.5,2063.5) {\rtc{最高}}; \node[tv] (l12) at (650,2063.5) {\rtc{最低}};
\node[tv] (l13) at (682.5,2063.5) {\rtc{最高}}; \node[tv] (l14) at (713.5,2063.5) {\rtc{最低}};
\node[tv] (l15) at (746,2063.5) {\rtc{最高}};   \node[tv] (l16) at (780,2063.5) {\rtc{最低}};
\node[tv] (l17) at (812.5,2063.5) {\rtc{最高}}; \node[tv] (l18) at (844,2063.5) {\rtc{最低}};
\node[tv] (l19) at (875.5,2063.5) {\rtc{最高}}; \node[tv] (l20) at (905.5,2063.5) {\rtc{最低}};
\node[tv] (i1) at (340,2100) {\rtc{①医療費\\水準（※1）}};
\node[tv] (i2) at (398,2100) {\rtc{調定額\\（※2）}};
\node[tv] (i3) at (462.5,2100) {\rtc{所得額\\（※2）}};
\node[tv] (i4) at (520,2088.5) {\rtc{所得\\割率}};
\node[tv] (i5) at (573.5,2088.5) {\rtc{資産\\割率}};
\node[tv] (i6) at (632.5,2088.5) {\rtc{均等\\割額}};
\node[tv] (i7) at (696,2088.5) {\rtc{平等\\割額}};
\node[fb={8}{10}] (i8) at (610,2111.5) {\hz{②保険料（標準化Xは3）}};
\node[tv] (i9) at (761,2100) {\rtc{③個別\\公費（※4）}};
\node[tv] (i10) at (826.5,2100) {\rtc{④収納率\\（※5）}};
\node[tv] (i11) at (888,2100) {\rtc{⑤保健\\事業（※6）}};
\node[tv] (i12) at (934,2086) {\rtc{⑥法定外\\繰入}};
\node[fs={6}{7}] (note) at (955,2010) {\rtl{※1 年齢調整後医療費指数（H29〜R元平均）　※2 R元年度}};
\end{tikzpicture}
\end{document}
